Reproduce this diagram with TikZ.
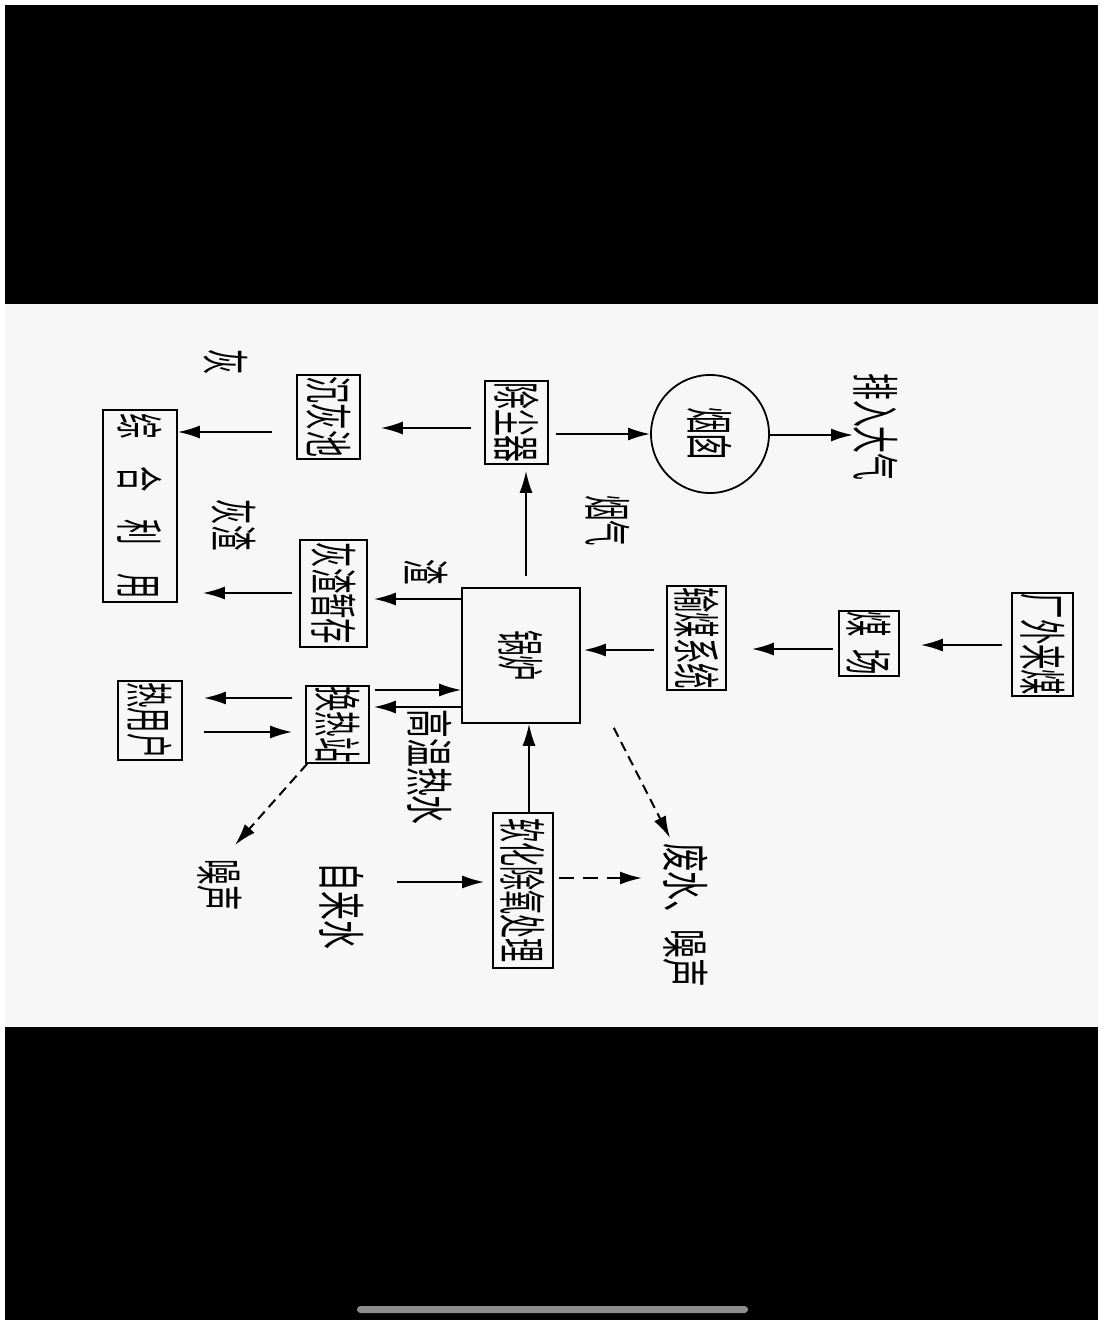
\documentclass[tikz,border=0pt]{standalone}
\usepackage{fontspec}
\usepackage{graphicx}
\newfontfamily\cjk{Noto Sans CJK SC}
\usetikzlibrary{arrows.meta}
% vertical, condensed text (the page is turned)
\newcommand{\vtxt}[2][0.53]{\rotatebox{-90}{\scalebox{#1}[1]{#2}}}
\tikzset{
  procbox/.style={draw,line width=0.8pt,inner sep=0pt},
  stackcirc/.style={circle,draw,line width=0.9pt,minimum size=59pt,inner sep=0pt},
  lbl/.style={inner sep=0pt},
  flowarr/.style={-{Latex[length=11pt,width=6.5pt]},line width=1pt},
  flowdash/.style={flowarr,dash pattern=on 5pt off 3pt},
  flowdashlong/.style={flowarr,dash pattern=on 7.5pt off 4.5pt}
}
\begin{document}
\begin{tikzpicture}[x=0.5pt,y=-0.5pt,every node/.style={font=\cjk\fontsize{24}{24}\selectfont}]
  \useasboundingbox (0,0) rectangle (1102,1325);
  % screen and page
  \fill[white] (0,0) rectangle (1102,1325);
  \fill[black!3] (5,304) rectangle (1098,1027);
  \fill[black] (5,5) rectangle (1098,304);
  \fill[black] (5,1027) rectangle (1098,1320);
  \fill[black!45,rounded corners=1.7pt] (357,1306) rectangle (748,1313);

  % boxes
  \node[procbox,minimum width=37pt,minimum height=96pt] (zonghe) at (140,506) {\vtxt{综\hspace{1.1em}合\hspace{1.1em}利\hspace{1.1em}用}};
  \node[procbox,minimum width=31.5pt,minimum height=42pt] (chenhui) at (328.5,417) {\vtxt[0.56]{沉灰池}};
  \node[procbox,minimum width=31.5pt,minimum height=41.5pt] (chuchen) at (516.5,422.5) {\vtxt[0.56]{除尘器}};
  \node[stackcirc] (yancong) at (710,434) {\vtxt[0.56]{烟囱}};
  \node[procbox,minimum width=33.5pt,minimum height=53.5pt] (huizha) at (333.5,593.5) {\vtxt{灰渣暂存}};
  \node[procbox,minimum width=59pt,minimum height=67.5pt] (guolu) at (521,655.5) {\vtxt{锅炉}};
  \node[procbox,minimum width=29.5pt,minimum height=52pt] (shumei) at (696.5,638) {\vtxt{输煤系统}};
  \node[procbox,minimum width=30pt,minimum height=32.5pt] (meichang) at (869,643.5) {\vtxt{煤\hspace{0.5em}场}};
  \node[procbox,minimum width=30.5pt,minimum height=51.5pt] (changwai) at (1042.5,644.5) {\vtxt{厂外来煤}};
  \node[procbox,minimum width=31.5pt,minimum height=38.5pt] (huanre) at (337.5,724.5) {\vtxt{换热站}};
  \node[procbox,minimum width=32pt,minimum height=39.5pt] (reyonghu) at (150,720.5) {\vtxt{热用户}};
  \node[procbox,minimum width=30pt,minimum height=77.5pt] (ruanhua) at (523,890.5) {\vtxt[0.5]{软化除氧处理}};

  % labels
  \node[lbl] (hui) at (226,362) {\vtxt{灰}};
  \node[lbl] (huizhalbl) at (234,525) {\vtxt{灰渣}};
  \node[lbl] (zha) at (426,572) {\vtxt{渣}};
  \node[lbl] (yanqi) at (608,521) {\vtxt{烟气}};
  \node[lbl] (pairu) at (876,427) {\vtxt[0.56]{排入大气}};
  \node[lbl] (gaowen) at (430,767) {\vtxt[0.6]{高温热水}};
  \node[lbl] (zaosheng) at (220,885) {\vtxt{噪声}};
  \node[lbl] (zilai) at (342,906) {\vtxt[0.6]{自来水}};
  \node[lbl] (feishui) at (686,915) {\vtxt[0.6]{废水、噪声}};
  \coordinate (zstip) at (235,845);
  \coordinate (fstip) at (670,838);

  % ash line
  \draw[flowarr,shorten <=6.5pt,shorten >=10pt] (chuchen.west |- 0,428) -- (chenhui.east |- 0,428);
  \draw[flowarr,shorten <=12pt] (chenhui.west |- 0,432) -- (zonghe.east |- 0,432);
  \draw[flowarr,shorten <=3.5pt] (chuchen.east |- 0,434) -- (yancong.west |- 0,434);
  \draw[flowarr,shorten >=11.5pt] (yancong.east |- 0,435) -- (pairu |- 0,435);
  \draw[flowarr,shorten <=5.5pt,shorten >=3pt] (guolu.north -| 526,0) -- (chuchen.south -| 526,0);
  % slag line
  \draw[flowarr,shorten >=3pt] (guolu.west |- 0,599) -- (huizha.east |- 0,599);
  \draw[flowarr,shorten <=3.5pt,shorten >=12.5pt] (huizha.west |- 0,593) -- (zonghe.east |- 0,593);
  % coal line
  \draw[flowarr,shorten <=4.5pt,shorten >=10.5pt] (changwai.west |- 0,645) -- (meichang.east |- 0,645);
  \draw[flowarr,shorten <=2.5pt,shorten >=12.5pt] (meichang.west |- 0,649) -- (shumei.east |- 0,649);
  \draw[flowarr,shorten <=6pt,shorten >=1.5pt] (shumei.west |- 0,650) -- (guolu.east |- 0,650);
  % hot water line
  \draw[flowarr,shorten <=2.5pt] (huanre.east |- 0,690) -- (guolu.west |- 0,690);
  \draw[flowarr,shorten >=2pt] (guolu.west |- 0,707) -- (huanre.east |- 0,707);
  \draw[flowarr,shorten <=6.5pt,shorten >=10.5pt] (huanre.west |- 0,698) -- (reyonghu.east |- 0,698);
  \draw[flowarr,shorten <=10.5pt,shorten >=6.5pt] (reyonghu.east |- 0,732) -- (huanre.west |- 0,732);
  \draw[flowdash] ([shift={(2,0)}]huanre.south west) -- (zstip);
  % water line
  \draw[flowarr,shorten <=27.5pt,shorten >=4pt] (zilai |- 0,882) -- (ruanhua.west |- 0,882);
  \draw[flowarr] (ruanhua.north -| 529,0) -- (guolu.south -| 529,0);
  \draw[flowdashlong,shorten <=2.5pt,shorten >=22pt] (ruanhua.east |- 0,878) -- (feishui |- 0,878);
  \draw[flowdash] ([shift={(33,4)}]guolu.south east) -- (fstip);
\end{tikzpicture}
\end{document}
